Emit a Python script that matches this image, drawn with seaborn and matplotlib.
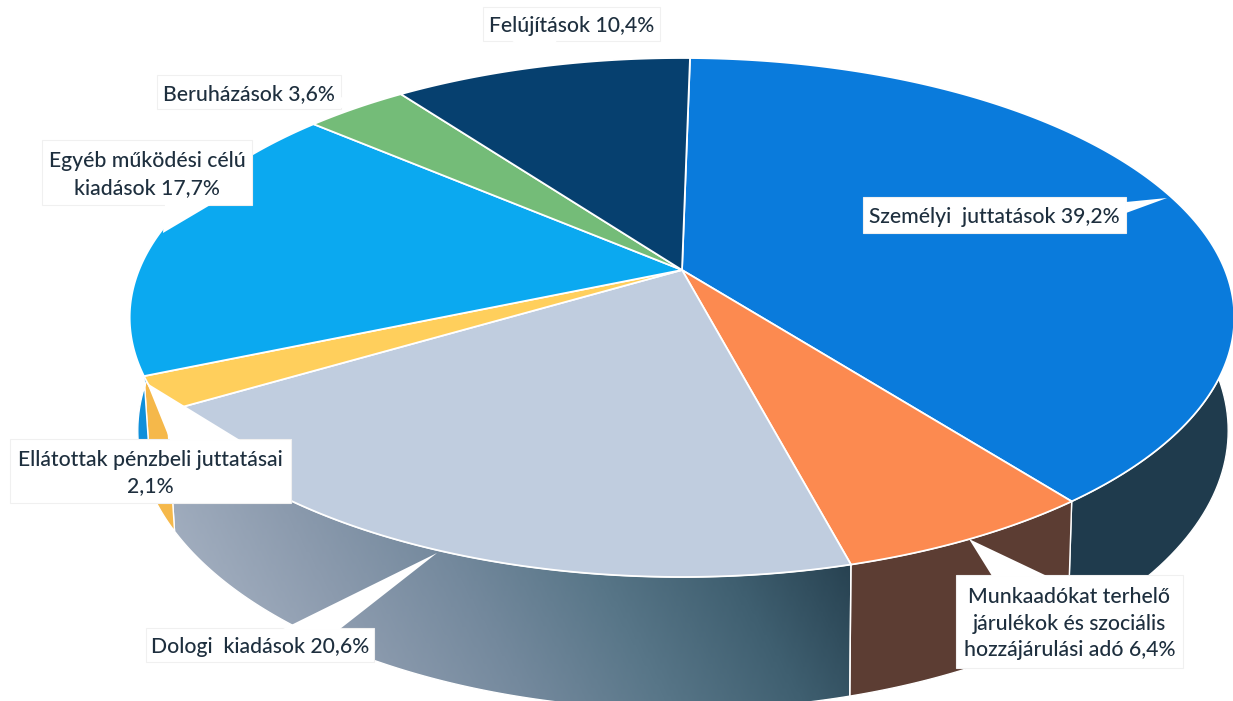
import numpy as np
import matplotlib
matplotlib.use('Agg')
import matplotlib.pyplot as plt
import seaborn as sns

categories = ['Személyi juttatások', 'Munkaadókat terhelő járulékok', 'Dologi kiadások',
              'Ellátottak pénzbeli juttatásai', 'Egyéb működési célú kiadások',
              'Beruházások', 'Felújítások']
values = [39.2, 6.4, 20.6, 2.1, 17.7, 3.6, 10.4]
top_colors = ['#0A7BDC', '#FC8A50', '#C0CDDF', '#FFCF5C', '#0BA9F0', '#74BC78', '#06406F']
wall_colors = ['#1F3B4D', '#5C3D33', None, '#F5B84A', '#0F8FDA', '#5A9A5E', '#05304F']
grey_wall = ['#A3AFC0', '#8C9BAE', '#74899D', '#587688', '#3F5F70', '#253F4E']

labels = ['Személyi  juttatások 39,2%',
          'Munkaadókat terhelő\njárulékok és szociális\nhozzájárulási adó 6,4%',
          'Dologi  kiadások 20,6%',
          'Ellátottak pénzbeli juttatásai\n2,1%',
          'Egyéb működési célú\nkiadások 17,7%',
          'Beruházások 3,6%',
          'Felújítások 10,4%']
# label boxes: x0, y0, x1, y1 and callout triangle
boxes = [(863, 197, 1126, 233), (956, 575, 1183, 668), (146, 628, 374, 662),
         (10, 439, 291, 503), (42, 140, 252, 205), (157, 75, 341, 109), (483, 7, 660, 41)]
tails = [[(1126, 202), (1167, 198), (1126, 213)],
         [(992, 576), (969, 539), (1047, 576)],
         [(283, 629), (437, 553), (340, 629)],
         [(170, 440), (147, 383), (240, 440)],
         [(165, 204), (163, 233), (212, 204)],
         [(341, 97), (358, 106), (341, 108)],
         [(511, 40), (544, 65), (557, 40)]]

sns.set_theme(style='white')
plt.rcParams['font.family'] = ['Lato', 'DejaVu Sans']

tilt = 0.183
start = 1.0
top_disc = (682, 270, 543, 250.8)
low_disc = (683, 379.5, 536, 269.6)


def project(theta, disc):
    cx, cy, a, b = disc
    t = np.radians(theta)
    d = 1 + tilt * np.cos(t)
    return cx + a * np.sin(t) / d, cy - b * np.cos(t) / d


fig, ax = plt.subplots(figsize=(12.33, 7.01), dpi=100)
fig.subplots_adjust(0, 0, 1, 1)

edges = start + np.cumsum([0] + values) * 3.6

# side walls first, the top disc covers the back of them
for i in range(len(values)):
    th = np.linspace(edges[i], edges[i + 1], 120)
    tx, ty = project(th, top_disc)
    bx, by = project(th, low_disc)
    px = np.r_[tx, bx[::-1]]
    py = np.r_[ty, by[::-1]]
    if wall_colors[i] is None:
        poly = ax.fill(px, py, color='none', ec='white', lw=1.0, zorder=2)[0]
        xx, yy = np.meshgrid(np.linspace(0, 1, 300), np.linspace(0, 1, 60))
        cmap = sns.blend_palette(grey_wall, as_cmap=True)
        img = ax.imshow(xx + 0.25 * (0.5 - yy), extent=(170, 860, 710, 400), cmap=cmap,
                        vmin=0, vmax=1, aspect='auto', zorder=1)
        img.set_clip_path(poly)
    else:
        ax.fill(px, py, color=wall_colors[i], ec='white', lw=1.0, zorder=2)

# top of the pie
for i in range(len(values)):
    th = np.linspace(edges[i], edges[i + 1], 160)
    tx, ty = project(th, top_disc)
    ax.fill(np.r_[top_disc[0], tx], np.r_[top_disc[1], ty], color=top_colors[i],
            ec='white', lw=1.3, zorder=3)

# labels with their white callouts
for i in range(len(labels)):
    x0, y0, x1, y1 = boxes[i]
    ax.fill([x0, x1, x1, x0], [y0, y0, y1, y1], color='white', ec='#F0F0F0', lw=0.8, zorder=4)
    ax.fill([p[0] for p in tails[i]], [p[1] for p in tails[i]], color='white', lw=0, zorder=5)
    ax.text((x0 + x1) / 2, (y0 + y1) / 2 + 2, labels[i], ha='center', va='center', fontsize=15.2,
            fontweight='medium', color='#1E2F3E', linespacing=1.42, zorder=6)

ax.set_xlim(0, 1233)
ax.set_ylim(701, 0)
ax.axis('off')
fig.savefig('out.png', dpi=100, facecolor='white')
